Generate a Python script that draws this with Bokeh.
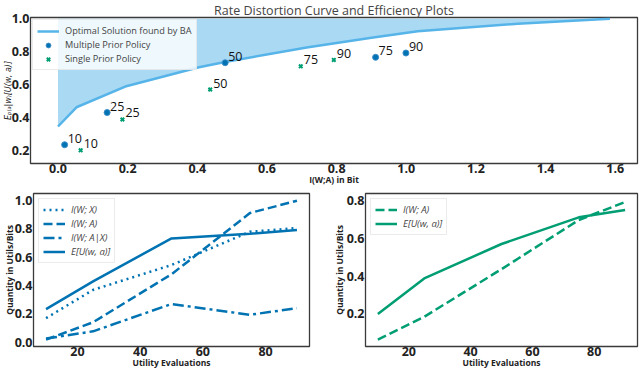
from bokeh.plotting import figure
from bokeh.layouts import column, row
from bokeh.models import FixedTicker, PrintfTickFormatter, Range1d
from bokeh.embed import file_html
from bokeh.resources import INLINE

# ---- data ----
evals = [10, 25, 50, 75, 90]
eval_labels = ["10", "25", "50", "75", "90"]

ba_rate = [0.0, 0.053, 0.193, 0.405, 0.483, 0.714, 0.9, 1.033, 1.32, 1.585]
ba_util = [0.345, 0.462, 0.588, 0.705, 0.739, 0.826, 0.885, 0.925, 0.97, 1.0]

multi_rate = [0.019, 0.141, 0.48, 0.912, 0.999]
multi_util = [0.234, 0.43, 0.733, 0.766, 0.792]
single_rate = [0.065, 0.185, 0.437, 0.697, 0.792]
single_util = [0.2, 0.388, 0.57, 0.711, 0.75]

multi_iwx = [0.17, 0.37, 0.545, 0.78, 0.806]
multi_iwax = [0.026, 0.077, 0.27, 0.194, 0.24]

top_xticks = [0.0, 0.2, 0.4, 0.6, 0.8, 1.0, 1.2, 1.4, 1.6]
top_yticks = [0.2, 0.4, 0.6, 0.8, 1.0]
bl_yticks = [0.0, 0.2, 0.4, 0.6, 0.8, 1.0]
br_yticks = [0.2, 0.4, 0.6, 0.8]
eval_ticks = [20, 40, 60, 80]

BLUE = "#0173b2"
GREEN = "#029e73"
SKY = "#56b4e9"
FONT = "Open Sans"


def style(p, xticks, yticks, xfmt, yfmt):
    p.outline_line_color = "#3a3a3a"
    p.outline_line_width = 1.3
    p.xgrid.visible = False
    p.ygrid.visible = False
    p.background_fill_color = "white"
    p.border_fill_color = "white"
    for ax in (p.xaxis, p.yaxis):
        ax.axis_line_color = None
        ax.major_tick_line_color = None
        ax.minor_tick_line_color = None
        ax.major_tick_in = 0
        ax.major_tick_out = 0
        ax.minor_tick_in = 0
        ax.minor_tick_out = 0
        ax.major_label_text_font = FONT
        ax.major_label_text_font_style = "bold"
        ax.major_label_text_font_size = "12.5px"
        ax.major_label_text_color = "#222222"
        ax.major_label_standoff = 0
        ax.axis_label_standoff = -2
        ax.axis_label_text_font = FONT
        ax.axis_label_text_font_style = "bold"
        ax.axis_label_text_font_size = "8.5px"
        ax.axis_label_text_color = "#222222"
    p.yaxis.axis_label_standoff = -3
    p.yaxis.major_label_standoff = 1
    p.xaxis.ticker = FixedTicker(ticks=xticks)
    p.yaxis.ticker = FixedTicker(ticks=yticks)
    p.xaxis.formatter = PrintfTickFormatter(format=xfmt)
    p.yaxis.formatter = PrintfTickFormatter(format=yfmt)


def style_legend(p, size="9.2px", row_h=12, margin=5):
    lg = p.legend[0]
    lg.location = "top_left"
    lg.label_text_font = FONT
    lg.label_text_font_size = size
    lg.label_height = row_h
    lg.glyph_height = row_h
    lg.glyph_width = 22
    lg.label_standoff = 6
    lg.spacing = 1
    lg.padding = 4
    lg.margin = margin
    lg.border_line_color = "#d8d8d8"
    lg.background_fill_alpha = 0.8


# ---- top: rate distortion ----
top = figure(width=640, height=190, output_backend="svg", toolbar_location=None,
             x_range=Range1d(-0.079, 1.664), y_range=Range1d(0.12, 1.008),
             min_border_left=25, min_border_right=3, min_border_top=0, min_border_bottom=27)
top.title.text = "Rate Distortion Curve and Efficiency Plots"
top.title.align = "center"
top.title.text_font = FONT
top.title.text_font_style = "normal"
top.title.text_font_size = "12.5px"
top.title.standoff = -2
style(top, top_xticks, top_yticks, "%.1f", "%.1f")
top.xaxis.axis_label = "I(W;A) in Bit"
top.yaxis.axis_label = "Eₚ₍ₐ|w₎[U(w, a)]"
top.yaxis.axis_label_text_font = "DejaVu Sans"
top.yaxis.axis_label_text_font_style = "italic"
top.yaxis.axis_label_text_font_size = "8px"
top.yaxis.axis_label_standoff = -4

top.varea(x=ba_rate, y1=ba_util, y2=1.0, fill_color=SKY, fill_alpha=0.5)
top.line(ba_rate, ba_util, line_color=SKY, line_width=2.5,
         legend_label="Optimal Solution found by BA")
top.scatter(multi_rate, multi_util, marker="circle", size=6, fill_color=BLUE,
            line_color="#3a8cc8", line_width=1, legend_label="Multiple Prior Policy")
top.scatter(single_rate, single_util, marker="x", size=5, line_color=GREEN,
            line_width=2, legend_label="Single Prior Policy")
top.text(multi_rate, multi_util, text=eval_labels, x_offset=3, y_offset=-2,
         text_font=dict(value=FONT), text_font_size="12.5px", text_baseline="bottom",
         text_color="#111111")
top.text(single_rate, single_util, text=eval_labels, x_offset=3, y_offset=-2,
         text_font=dict(value=FONT), text_font_size="12.5px", text_baseline="bottom",
         text_color="#111111")
style_legend(top, margin=2)

# ---- bottom left: multiple prior ----
bl = figure(width=330, height=202, output_backend="svg", toolbar_location=None,
            x_range=Range1d(6, 94), y_range=Range1d(-0.03, 1.05),
            min_border_left=26, min_border_right=21, min_border_top=3, min_border_bottom=46)
style(bl, eval_ticks, bl_yticks, "%d", "%.1f")
bl.xaxis.axis_label = "Utility Evaluations"
bl.yaxis.axis_label = "Quantity in Utils/Bits"
bl.line(evals, multi_iwx, line_color=BLUE, line_width=2.5, line_dash="2 4",
        legend_label="I(W; X)")
bl.line(evals, multi_rate, line_color=BLUE, line_width=2.5, line_dash="9 4",
        legend_label="I(W; A)")
bl.line(evals, multi_iwax, line_color=BLUE, line_width=2.5, line_dash="11 4 3 4",
        legend_label="I(W; A|X)")
bl.line(evals, multi_util, line_color=BLUE, line_width=2.5,
        legend_label="E[U(w, a)]")
style_legend(bl, "9.5px", 13)
bl.legend[0].label_text_font_style = "italic"

# ---- bottom right: single prior ----
br = figure(width=310, height=202, output_backend="svg", toolbar_location=None,
            x_range=Range1d(6, 94), y_range=Range1d(0.028, 0.837),
            min_border_left=33, min_border_right=3, min_border_top=3, min_border_bottom=46)
style(br, eval_ticks, br_yticks, "%d", "%.1f")
br.yaxis.axis_label_standoff = -1
br.xaxis.axis_label = "Utility Evaluations"
br.yaxis.axis_label = "Quantity in Utils/Bits"
br.line(evals, single_rate, line_color=GREEN, line_width=2.5, line_dash="9 4",
        legend_label="I(W; A)")
br.line(evals, single_util, line_color=GREEN, line_width=2.5,
        legend_label="E[U(w, a)]")
style_legend(br, "9.5px", 13)
br.legend[0].label_text_font_style = "italic"

layout = column(top, row(bl, br))
open("out.html", "w").write(file_html(layout, INLINE))
